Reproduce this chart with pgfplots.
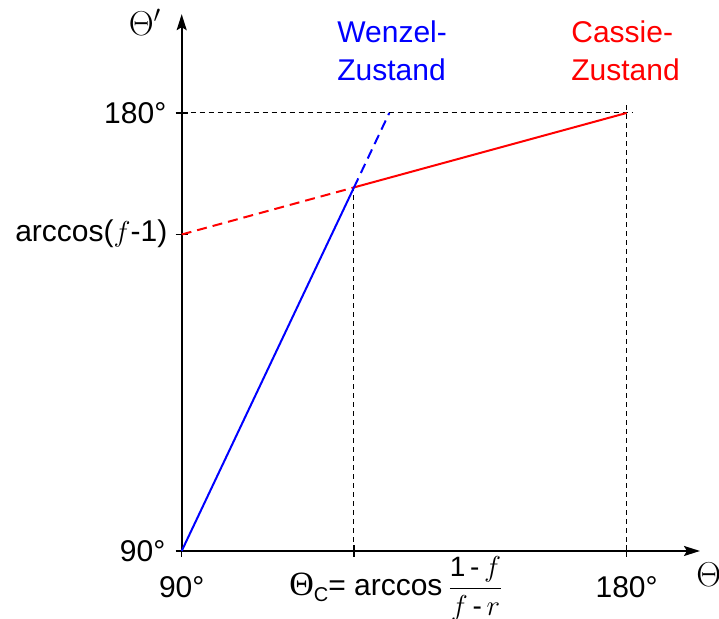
\documentclass[border=0pt]{standalone}
\usepackage{fontspec}
\setmainfont{Liberation Sans}
\newfontfamily\serif{Liberation Serif}
\usepackage{pgfplots}
\pgfplotsset{compat=1.18}
\usetikzlibrary{arrows.meta}

\newcommand{\fit}{$f$}
\newcommand{\rit}{$r$}

\begin{document}
\begin{tikzpicture}[font=\fontsize{15}{18}\selectfont]
  \begin{axis}[
    x=2.472pt, y=2.4335pt,
    xmin=90, xmax=194.83,
    ymin=90, ymax=200.3,
    enlargelimits=false,
    axis lines=left,
    axis line style={line width=1pt, -{Stealth[length=8pt,width=5pt,inset=1.5pt]}},
    xtick={90,124.85,180},
    ytick={90,155.03,180},
    xticklabels={}, yticklabels={},
    tick align=center,
    major tick length=6pt,
    tick style={line width=0.6pt, black},
    clip=false
  ]
    % guide lines
    \addplot[black, line width=0.5pt, dash pattern=on 2.5pt off 2pt] coordinates {(90,180) (181.1,180)};
    \addplot[black, line width=0.5pt, dash pattern=on 2.5pt off 2pt] coordinates {(180,90) (180,181.6)};
    \addplot[black, line width=0.5pt, dash pattern=on 2.5pt off 2pt] coordinates {(124.85,90) (124.85,164.7)};

    % Cassie
    \addplot[red, line width=1pt, dash pattern=on 5pt off 3pt] coordinates {(90,155.03) (124.85,164.7)};
    \addplot[red, line width=1pt] coordinates {(124.85,164.7) (180,180)};
    % Wenzel
    \addplot[blue, line width=1pt] coordinates {(90,90) (124.85,164.7)};
    \addplot[blue, line width=1pt, dash pattern=on 5pt off 3pt] coordinates {(124.85,164.7) (131.99,180)};

    \coordinate (O) at (axis cs:90,90);

    % y labels
    \node[anchor=east, inner sep=0pt, xshift=-7.5pt] at (axis cs:90,180) {180°};
    \node[anchor=base east, inner sep=0pt, xshift=-7pt, yshift=-3.5pt] at (axis cs:90,155.03) {arccos(\fit-1)};
    \node[anchor=east, inner sep=0pt, xshift=-8pt] at (axis cs:90,90) {90°};
    % x labels
    \node[anchor=base, inner sep=0pt, yshift=-23.5pt] at (axis cs:90,90) {90°};
    \node[anchor=base, inner sep=0pt, yshift=-23.5pt] at (axis cs:180,90) {180°};
    \node[anchor=base west, inner sep=0pt, xshift=53.6pt, yshift=-22.5pt] at (axis cs:90,90)
      {{\serif\fontsize{17}{18}\selectfont Θ}\raisebox{-0.35ex}{\fontsize{10}{12}\selectfont C}= arccos\,$\displaystyle\frac{\mbox{\fontsize{14}{16}\selectfont 1\,-\,\fit}}{\mbox{\fontsize{14}{16}\selectfont\fit\,-\,\rit}}$};
    % axis names
    \node[anchor=east, inner sep=0pt, xshift=-10pt, yshift=-4pt] at (axis cs:90,200.3) {\fontsize{17}{18}\selectfont$\Theta'$};
    \node[anchor=west, inner sep=0pt, xshift=-2pt, yshift=-12pt] at (axis cs:194.83,90) {\fontsize{17}{18}\selectfont$\Theta$};
    % state names
    \node[anchor=base west, inner sep=0pt, blue] at (axis cs:121.41,194.38) {Wenzel-};
    \node[anchor=base west, inner sep=0pt, blue] at (axis cs:121.41,186.77) {Zustand};
    \node[anchor=base west, inner sep=0pt, red] at (axis cs:168.74,194.38) {Cassie-};
    \node[anchor=base west, inner sep=0pt, red] at (axis cs:168.74,186.77) {Zustand};
  \end{axis}
  \pgfresetboundingbox
  \path[use as bounding box] (O) ++(-90.85pt,-34pt) rectangle ++(359.5pt,309.5pt);
\end{tikzpicture}
\end{document}
